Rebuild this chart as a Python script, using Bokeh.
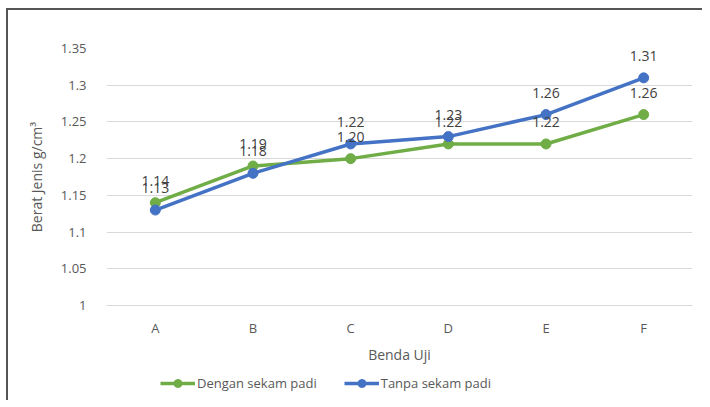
from bokeh.plotting import figure
from bokeh.layouts import column
from bokeh.models import ColumnDataSource, FixedTicker, Legend, LegendItem, Range1d
from bokeh.core.properties import value
from bokeh.embed import file_html
from bokeh.resources import INLINE

categories = ["A", "B", "C", "D", "E", "F"]
dengan = [1.14, 1.19, 1.20, 1.22, 1.22, 1.26]
tanpa = [1.13, 1.18, 1.22, 1.23, 1.26, 1.31]
dengan_labels = ["1.14", "1.19", "1.20", "1.22", "1.22", "1.26"]
tanpa_labels = ["1.13", "1.18", "1.22", "1.23", "1.26", "1.31"]
series_names = ["Dengan sekam padi", "Tanpa sekam padi"]
y_ticks = [1.0, 1.05, 1.1, 1.15, 1.2, 1.25, 1.3, 1.35]
y_tick_labels = ["1", "1.05", "1.1", "1.15", "1.2", "1.25", "1.3", "1.35"]

GREEN = "#70AD47"
BLUE = "#4472C4"
FONT = "Open Sans"

src_d = ColumnDataSource(dict(x=categories, y=dengan, t=dengan_labels))
src_t = ColumnDataSource(dict(x=categories, y=tanpa, t=tanpa_labels))

p = figure(x_range=categories, y_range=(1.0, 1.35),
           frame_width=586, frame_height=257,
           output_backend="svg", toolbar_location=None,
           min_border_left=98, min_border_right=10,
           min_border_top=38, min_border_bottom=60)
p.outline_line_color = None
p.background_fill_color = "white"
p.border_fill_color = "white"

p.xgrid.grid_line_color = None
p.ygrid.grid_line_color = "#d9d9d9"
p.ygrid.grid_line_width = 1
p.yaxis.ticker = FixedTicker(ticks=y_ticks)
p.yaxis.major_label_overrides = {t: l for t, l in zip(y_ticks, y_tick_labels)}

for ax in (p.xaxis, p.yaxis):
    ax.major_tick_line_color = None
    ax.minor_tick_line_color = None
    ax.major_label_text_font = FONT
    ax.major_label_text_font_size = "13px"
    ax.major_label_text_color = "#595959"
    ax.axis_label_text_font = FONT
    ax.axis_label_text_font_size = "14px"
    ax.axis_label_text_font_style = "normal"
    ax.axis_label_text_color = "#595959"

p.yaxis.axis_line_color = None
p.xaxis.axis_line_color = "#d9d9d9"
p.yaxis.major_label_standoff = 14
p.xaxis.major_label_standoff = 7
p.yaxis.axis_label = "Berat Jenis g/cm³"
p.xaxis.axis_label = "Benda Uji"
p.yaxis.axis_label_standoff = 12
p.xaxis.axis_label_standoff = 5

p.line("x", "y", source=src_d, line_color=GREEN, line_width=3.5)
p.scatter("x", "y", source=src_d, size=10, fill_color=GREEN, line_color=GREEN)
p.line("x", "y", source=src_t, line_color=BLUE, line_width=3.5)
p.scatter("x", "y", source=src_t, size=10, fill_color=BLUE, line_color=BLUE)

for src in (src_d, src_t):
    p.text("x", "y", text="t", source=src, text_align="center",
           text_baseline="middle", y_offset=-22,
           text_font=value(FONT), text_font_size="14px", text_color="#404040")

# legend strip below the chart (proxy renderers sit outside the visible range)
p2 = figure(width=694, height=34, output_backend="svg", toolbar_location=None,
            x_axis_type=None, y_axis_type=None, min_border=0,
            x_range=Range1d(0, 1), y_range=Range1d(0, 1))
p2.outline_line_color = None
p2.background_fill_color = "white"
p2.border_fill_color = "white"
proxy = ColumnDataSource(dict(x=[-5, -4], y=[-5, -5]))
items = []
for name, col in zip(series_names, [GREEN, BLUE]):
    lr = p2.line("x", "y", source=proxy, line_color=col, line_width=3.5)
    sr = p2.scatter("x", "y", source=proxy, size=10, fill_color=col, line_color=col)
    items.append(LegendItem(label=name, renderers=[lr, sr]))

legend = Legend(items=items, orientation="horizontal", location=(54, 7),
                label_text_font=FONT, label_text_font_size="13px",
                label_text_color="#595959", border_line_color=None,
                background_fill_alpha=0,
                glyph_width=35, spacing=27, padding=4, margin=0,
                label_standoff=2)
p2.add_layout(legend, "center")

layout = column(p, p2, spacing=0,
                styles={"border-left": "2px solid #555555",
                        "border-top": "2px solid #555555",
                        "margin-left": "6px", "margin-top": "8px"})

open("out.html", "w").write(file_html(layout, INLINE))
